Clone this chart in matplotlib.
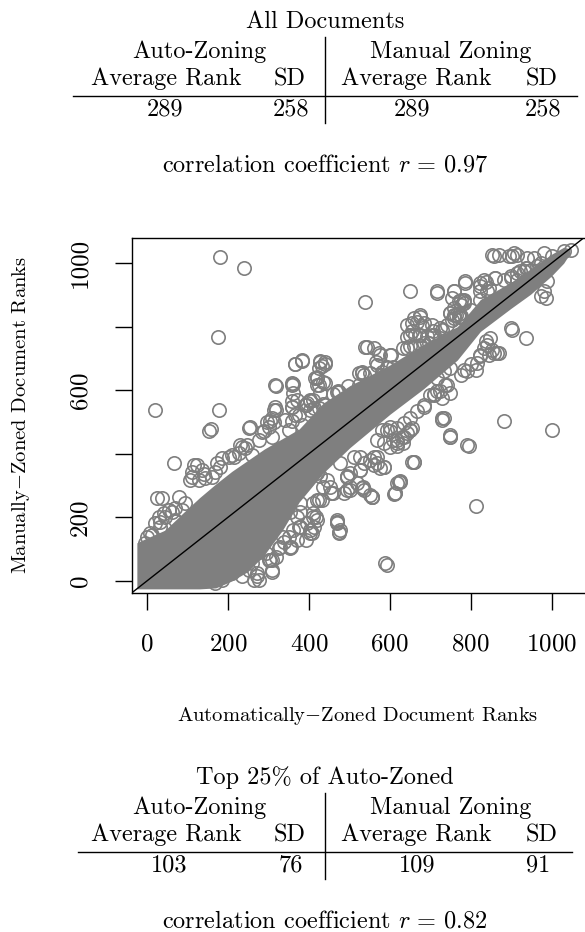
import numpy as np
import matplotlib
matplotlib.use("Agg")
import matplotlib.pyplot as plt

plt.rcParams["font.family"] = "serif"
plt.rcParams["font.serif"] = ["cmr10"]
plt.rcParams["mathtext.fontset"] = "cm"
plt.rcParams["axes.formatter.use_mathtext"] = True
plt.rcParams["axes.unicode_minus"] = False

# summary tables
col_groups = ["Auto-Zoning", "Manual Zoning"]
col_heads = ["Average Rank", "SD", "Average Rank", "SD"]
all_title = "All Documents"
all_stats = [289, 258, 289, 258]
all_r = 0.97
top_title = "Top 25% of Auto-Zoned"
top_stats = [103, 76, 109, 91]
top_r = 0.82

# overplotted core of the scatter (solid grey area)
core_x = [-25, 0, 45, 90, 130, 170, 210, 250, 290, 335, 376, 436, 502, 601,
          684, 767, 824, 900, 948, 1000, 1030, 1045]
core_hi = [120, 135, 160, 215, 262, 305, 345, 380, 415, 448, 478, 560, 615, 680,
           745, 800, 885, 940, 982, 1028, 1050, 1045]
core_lo = [-25, -25, -25, -25, -25, -22, 0, 30, 82, 160, 248, 340, 420, 525,
           605, 695, 785, 858, 902, 960, 1000, 1030]

# individual documents outside the core (auto rank, manual rank)
pts = [
    # far outliers
    (181, 1018), (239, 984), (176, 768), (21, 539), (179, 537), (153, 471), (158, 479),
    (252, 481), (66, 372), (25, 260), (37, 260), (538, 877), (814, 236), (592, 50),
    (1002, 476), (882, 502), (729, 507), (750, 460), (797, 425), (651, 913), (717, 906),
    # upper side, low ranks
    (124, 365), (136, 349), (111, 344), (128, 318), (144, 323), (107, 318),
    (186, 386), (202, 391), (181, 359), (169, 344), (161, 328), (210, 396), (173, 370),
    (235, 422), (248, 428), (227, 402), (260, 396), (230, 428), (243, 418), (214, 391),
    (285, 469), (301, 485), (314, 501), (309, 454), (276, 443), (289, 471), (255, 485),
    (318, 538), (359, 548), (392, 553), (413, 543), (375, 522), (342, 506), (351, 475),
    (384, 491), (305, 502), (296, 501), (308, 512), (313, 538), (317, 548),
    (41, 213), (29, 202), (54, 223), (70, 229), (21, 181), (33, 171), (45, 202),
    (62, 218), (33, 186), (70, 192), (0, 139), (12, 145), (-4, 119), (8, 108), (8, 150),
    (87, 223), (95, 244), (78, 265), (115, 365), (140, 338), (111, 328),
    # upper side, middle ranks
    (319, 614), (365, 683), (382, 693), (427, 691), (441, 689), (433, 675), (359, 617),
    (362, 591), (421, 638), (425, 617), (441, 623), (474, 596), (359, 565), (392, 554),
    (404, 565), (532, 654), (524, 617), (367, 523), (359, 502), (425, 544), (441, 554),
    (474, 554), (540, 735), (317, 616), (358, 622), (420, 642), (428, 590), (469, 595),
    (523, 653), (536, 648), (552, 653), (581, 658), (609, 674), (358, 548), (395, 559),
    (403, 569),
    (366, 684), (383, 695), (428, 690), (441, 684), (424, 669), (362, 621), (416, 637),
    (420, 616), (436, 626), (370, 569), (391, 553), (411, 569), (403, 538), (436, 558),
    (461, 588), (473, 597), (498, 613), (482, 563), (510, 579), (531, 658), (544, 737),
    (573, 716), (602, 711), (565, 690), (594, 674), (581, 648), (643, 805), (659, 826),
    (676, 836), (684, 811), (655, 785), (672, 774), (643, 769), (684, 748), (634, 733),
    (651, 738), (701, 717), (730, 789), (758, 836), (770, 841), (783, 873),
    (560, 733), (577, 712), (601, 712), (569, 680), (593, 670), (618, 659), (585, 638),
    (552, 597),
    # upper side, high ranks
    (655, 811), (668, 816), (676, 832), (680, 801), (651, 775), (663, 775), (676, 775),
    (692, 770), (705, 775), (642, 733), (659, 738), (676, 743), (696, 748), (708, 785),
    (725, 796), (742, 806), (758, 827), (771, 832), (775, 869), (758, 858), (750, 843),
    (800, 853), (758, 911), (754, 890), (787, 937), (771, 880), (783, 885),
    (824, 937), (837, 942), (845, 921), (824, 911), (861, 953), (882, 947), (899, 958),
    (915, 969), (931, 974), (940, 984), (965, 990), (973, 1000), (824, 885), (837, 869),
    (853, 1026), (870, 1026), (894, 1021), (907, 1031), (940, 1016), (956, 1016),
    (981, 1031), (936, 984), (923, 974), (948, 979), (964, 963), (915, 948), (899, 953),
    (989, 943), (981, 911), (973, 896), (985, 890), (861, 953), (832, 948), (824, 927),
    (840, 911), (787, 943), (717, 911), (758, 911), (775, 885), (783, 880), (763, 838),
    (775, 833), (754, 822), (750, 843), (857, 1021), (903, 1021), (915, 1026),
    (1002, 1021), (1030, 1037), (1047, 1042),
    # lower side, high ranks
    (899, 796), (936, 764), (853, 727), (840, 743), (865, 717), (845, 712), (824, 707),
    (816, 686), (800, 681), (783, 665), (812, 665), (750, 671), (733, 660), (717, 638),
    (742, 617), (725, 597), (709, 586), (750, 591), (729, 575), (704, 806), (709, 775),
    (725, 764), (832, 733), (857, 717), (870, 717), (837, 754), (849, 764), (824, 712),
    (790, 660), (775, 649), (737, 617), (717, 597), (700, 586), (684, 554), (668, 534),
    (651, 513), (635, 497), (618, 481), (601, 471), (581, 476), (903, 789),
    (733, 512), (750, 454), (684, 546), (709, 588),
    # lower side, middle ranks
    (729, 512), (750, 454), (791, 428), (659, 375), (626, 313), (614, 276), (556, 265),
    (531, 292), (486, 276), (469, 186), (478, 160), (403, 160), (379, 171), (560, 365),
    (577, 354), (601, 422), (630, 454), (643, 464), (655, 480), (601, 485), (568, 443),
    (527, 391), (502, 339), (436, 297), (420, 255),
    (536, 370), (552, 380), (569, 391), (585, 360), (618, 307), (552, 270), (494, 286),
    (453, 297), (428, 329), (395, 318), (379, 244), (411, 202), (470, 192), (371, 202),
    (354, 218), (338, 239), (420, 340), (494, 329), (519, 307), (593, 475), (609, 443),
    (618, 423), (656, 374), (624, 311), (611, 274), (557, 264), (470, 186), (475, 154),
    (461, 276), (502, 297), (494, 328), (527, 349), (536, 286), (560, 391), (585, 433),
    (618, 433), (635, 454), (651, 475),
    (354, 108), (337, 139), (379, 170), (403, 150), (411, 213), (432, 255), (455, 276),
    (470, 182), (474, 150), (502, 286), (535, 296), (555, 265), (494, 328), (527, 349),
    (568, 370), (585, 359), (614, 276), (626, 312), (659, 375), (634, 433), (651, 475),
    (618, 443), (589, 56), (420, 192), (445, 318), (478, 370), (511, 391),
    # lower side, low ranks
    (235, 14), (252, 35), (276, 3), (309, 35), (301, 66), (293, 87), (326, 103),
    (355, 108), (392, 129), (408, 150), (417, 202), (413, 171), (375, 171), (351, 139),
    (338, 124), (425, 255), (318, 76), (260, 56), (243, 76), (210, 24), (186, 3),
    (169, -7), (272, 14), (309, 66), (256, 82), (354, 104), (395, 181), (362, 160),
    (379, 218), (411, 244), (346, 255),
    (272, 87), (304, 66), (308, 29), (272, 24), (264, 3), (371, 129), (330, 108),
    (304, 160), (280, 139),
]
auto_rank = [p[0] for p in pts]
manual_rank = [p[1] for p in pts]

W, H = 585, 932
fig = plt.figure(figsize=(W / 100, H / 100), dpi=100)

ax = fig.add_axes([132 / W, 1 - 593 / H, (588 - 132) / W, (593 - 238) / H])
ax.fill_between(core_x, core_lo, core_hi, color="#7f7f7f", lw=0, zorder=1)
ax.plot(auto_rank, manual_rank, "o", ms=9.6, mfc="none", mec="#7f7f7f", mew=1.2, zorder=2)
ax.axline((0, 0), slope=1, color="black", lw=1.0, zorder=3)
ax.set_xlim(-37, 1090)
ax.set_ylim(-38, 1079)
ax.set_xticks([0, 200, 400, 600, 800, 1000])
ax.set_yticks([0, 200, 600, 1000], labels=["0", "200", "600", "1000"])
ax.set_yticks([400, 800], minor=True)
ax.tick_params(axis="both", which="both", direction="out", length=12, width=1.0,
               labelsize=18, pad=17)
ax.tick_params(axis="y", labelrotation=90)
for lab in ax.get_yticklabels():
    lab.set_va("center")
for s in ax.spines.values():
    s.set_linewidth(1.0)
ax.set_xlabel(r"Automatically$-$Zoned Document Ranks", fontsize=14.8)
ax.xaxis.set_label_coords((358 - 132) / (588 - 132), -0.315)
ax.set_ylabel(r"Manually$-$Zoned Document Ranks", fontsize=14.8, labelpad=27)

# overlay in pixel coordinates for the tables
ov = fig.add_axes([0, 0, 1, 1], zorder=-1)
ov.set_xlim(0, W)
ov.set_ylim(H, 0)
ov.axis("off")


def table(y0, title, stats, r, x0, x1, heads_x, vals_x):
    fs = 17.5
    ov.text(325, y0, title, ha="center", va="center", fontsize=fs)
    ov.text(199, y0 + 30, col_groups[0], ha="center", va="center", fontsize=fs)
    ov.text(451, y0 + 30, col_groups[1], ha="center", va="center", fontsize=fs)
    for hx, h in zip(heads_x, col_heads):
        ov.text(hx, y0 + 57, h, ha="center", va="center", fontsize=fs)
    for vx, v in zip(vals_x, stats):
        ov.text(vx, y0 + 87, str(v), ha="center", va="center", fontsize=fs)
    ov.plot([x0, x1], [y0 + 74, y0 + 74], color="black", lw=1.0)
    ov.plot([325, 325], [y0 + 15, y0 + 101], color="black", lw=1.0)
    ov.text(325, y0 + 143, r"correlation coefficient $r\,=\,%.2f$" % r,
            ha="center", va="center", fontsize=fs)


table(22, all_title, all_stats, all_r, 73, 577, [166, 290, 416, 542], [165, 291, 412, 543])
table(778, top_title, top_stats, top_r, 78, 572, [166, 290, 416, 542], [169, 291, 417, 538])

fig.savefig("out.png", dpi=100)
